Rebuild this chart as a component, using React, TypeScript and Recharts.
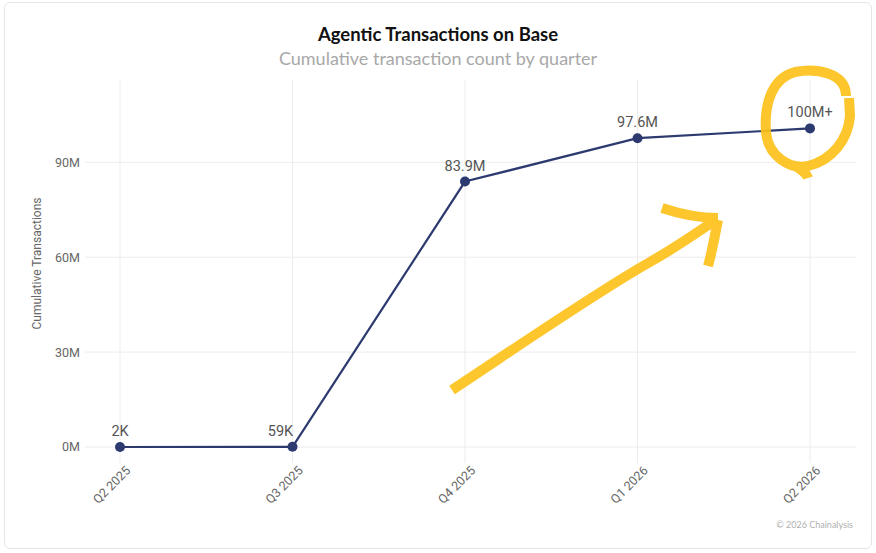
import React from 'react';
import { LineChart, Line, XAxis, YAxis, CartesianGrid, LabelList, Label } from 'recharts';

const quarters = ['Q2 2025', 'Q3 2025', 'Q4 2025', 'Q1 2026', 'Q2 2026'];
const cumulativeTx = [2000, 59000, 83.9e6, 97.6e6, 100.7e6];
const pointLabels = ['2K', '59K', '83.9M', '97.6M', '100M+'];
const yTicks = [0, 30e6, 60e6, 90e6];

const data = quarters.map((q, i) => ({ quarter: q, value: cumulativeTx[i], label: pointLabels[i] }));

const NAVY = '#2c3a6f';
const GRID = '#ececec';

const renderPointLabel = (props: any) => {
  const { x, y, index } = props;
  const dx = index === 1 ? -12 : 0;
  return (
    <text x={x + dx} y={y - 11} textAnchor="middle" fill="#555" fontSize={14.5} fontFamily="Roboto, sans-serif">
      {pointLabels[index]}
    </text>
  );
};

const renderAxisTitle = (props: any) => {
  const { viewBox } = props;
  const cx = 38;
  const cy = viewBox.y + viewBox.height / 2;
  return (
    <text x={cx} y={cy} transform={`rotate(-90 ${cx} ${cy})`} textAnchor="middle" dominantBaseline="middle"
      fill="#666" fontSize={12} fontFamily="Roboto, sans-serif">
      Cumulative Transactions
    </text>
  );
};

export default function App() {
  return (
    <div style={{ position: 'absolute', left: 0, top: 0, width: 876, height: 553, background: '#fff', fontFamily: 'Lato, sans-serif' }}>
      <div style={{ position: 'absolute', left: 4, top: 2, width: 866, height: 545, border: '1px solid #e6e6e6', borderRadius: 6 }} />
      <div style={{ position: 'absolute', left: 0, width: 876, top: 23, textAlign: 'center', fontSize: 18.5, fontWeight: 700, color: '#111' }}>
        Agentic Transactions on Base
      </div>
      <div style={{ position: 'absolute', left: 0, width: 876, top: 47, textAlign: 'center', fontSize: 18, color: '#a8a8a8' }}>
        Cumulative transaction count by quarter
      </div>
      <div style={{ position: 'absolute', left: 0, top: 0 }}>
        <LineChart width={876} height={553} data={data} margin={{ top: 80, right: 20, bottom: 46, left: 25 }}>
          <CartesianGrid stroke={GRID} syncWithTicks />
          <XAxis dataKey="quarter" padding={{ left: 35, right: 46 }} height={60} axisLine={false}
            tickLine={{ stroke: GRID }} tickSize={16} tickMargin={2} interval={0}
            tick={{ angle: -45, textAnchor: 'end', fill: '#666', fontSize: 12.5, fontFamily: 'Roboto, sans-serif', dx: 5 }} />
          <YAxis domain={[0, 116e6]} ticks={yTicks} width={60} axisLine={false} tickLine={false} tickSize={0} tickMargin={5}
            tickFormatter={(v: number) => `${v / 1e6}M`}
            tick={{ fill: '#666', fontSize: 12.5, fontFamily: 'Roboto, sans-serif' }}>
            <Label content={renderAxisTitle} />
          </YAxis>
          <Line type="linear" dataKey="value" stroke={NAVY} strokeWidth={2.2} isAnimationActive={false}
            dot={{ r: 5, fill: NAVY, stroke: NAVY, strokeWidth: 0 }} activeDot={false}>
            <LabelList dataKey="label" content={renderPointLabel} />
          </Line>
        </LineChart>
      </div>
      <svg width={876} height={553} style={{ position: 'absolute', left: 0, top: 0, pointerEvents: 'none' }}>
        <g fill="none" stroke="#fcc21b" strokeWidth={10} strokeLinecap="butt" strokeLinejoin="round" opacity={0.92}>
          <path d="M 846 96 C 846 72, 815 68, 795 72 C 772 78, 764 104, 766 132 C 768 156, 790 170, 808 166 C 832 160, 848 140, 850 116 L 849 98" />
          <path d="M 796 166 C 800 170, 806 172, 808 178" />
          <path d="M 452 390 C 520 345, 600 290, 650 262 C 680 245, 700 230, 716 220" />
          <path d="M 662 208 C 680 214, 700 218, 718 218" />
          <path d="M 718 220 C 714 240, 712 252, 708 266" />
        </g>
      </svg>
      <div style={{ position: 'absolute', right: 23, top: 519, fontSize: 9, color: '#b0b0b0' }}>
        © 2026 Chainalysis
      </div>
    </div>
  );
}
